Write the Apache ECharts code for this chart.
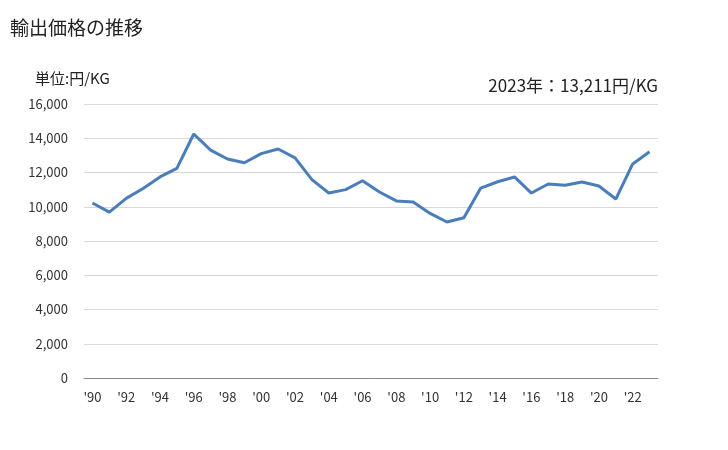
<!DOCTYPE html>
<html><head><meta charset="utf-8">
<script src="https://cdn.jsdelivr.net/npm/echarts@6/dist/echarts.min.js"></script>
<style>html,body{margin:0;padding:0;background:#fff}#c{width:728px;height:450px}</style>
</head><body><div id="c"></div>
<script>
const years = ["1990","1991","1992","1993","1994","1995","1996","1997","1998","1999","2000","2001","2002","2003","2004","2005","2006","2007","2008","2009","2010","2011","2012","2013","2014","2015","2016","2017","2018","2019","2020","2021","2022","2023"];
const prices = [10220,9690,10490,11070,11740,12240,14250,13310,12790,12570,13100,13370,12850,11580,10800,11000,11520,10860,10340,10280,9610,9110,9360,11090,11460,11740,10800,11330,11250,11450,11210,10450,12500,13211];
const yTicks = {min:0, max:16000, interval:2000};
const titleText = "輸出価格の推移";
const unitText = "単位:円/KG";
const latestText = "2023年：13,211円/KG";

const chart = echarts.init(document.getElementById('c'), null, {renderer:'canvas'});
chart.setOption({
  animation:false,
  textStyle:{fontFamily:'"Noto Sans CJK JP", sans-serif'},
  title:[
    {text:titleText, left:5, top:13, textStyle:{fontSize:19, fontWeight:'normal', color:'#222'}},
    {text:unitText, left:30, top:66, textStyle:{fontSize:15, fontWeight:'normal', color:'#222'}},
    {text:latestText, right:65, top:72, textStyle:{fontSize:17, fontWeight:'normal', color:'#222'}}
  ],
  grid:{left:84, right:70, top:104, bottom:72},
  xAxis:{
    type:'category', data:years, boundaryGap:true,
    axisLine:{lineStyle:{color:'#888', width:1}},
    axisTick:{show:false},
    axisLabel:{interval:1, color:'#333', fontSize:13, margin:13,
      formatter:v=>"'"+v.slice(2)}
  },
  yAxis:{
    type:'value', min:yTicks.min, max:yTicks.max, interval:yTicks.interval,
    axisLine:{show:false}, axisTick:{show:false},
    axisLabel:{color:'#333', fontSize:13, margin:16,
      formatter:v=>v.toLocaleString('en-US')},
    splitLine:{lineStyle:{color:'#d9d9d9', width:1}}
  },
  series:[{
    type:'line', data:prices, symbol:'none',
    lineStyle:{color:'#4a7ebb', width:3}, itemStyle:{color:'#4a7ebb'}
  }]
});
</script></body></html>
